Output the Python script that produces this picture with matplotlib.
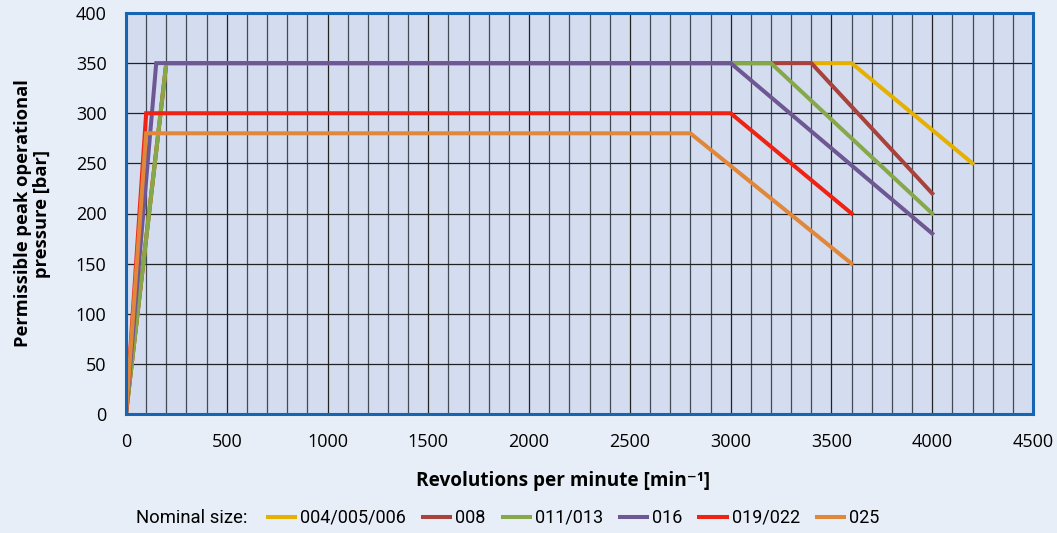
import numpy as np
import matplotlib.pyplot as plt
from matplotlib.ticker import MultipleLocator

plt.rcParams['font.family'] = ['Open Sans', 'DejaVu Sans']
plt.rcParams['font.size'] = 11

# curves: rpm / pressure corner points
labels = ['004/005/006', '008', '011/013', '016', '019/022', '025']
rpm_004 = [0, 200, 3600, 4200]
bar_004 = [0, 350, 350, 250]
rpm_008 = [0, 200, 3400, 4000]
bar_008 = [0, 350, 350, 220]
rpm_011 = [0, 200, 3200, 4000]
bar_011 = [0, 350, 350, 200]
rpm_016 = [0, 150, 3000, 4000]
bar_016 = [0, 350, 350, 180]
rpm_019 = [0, 100, 3000, 3600]
bar_019 = [0, 300, 300, 200]
rpm_025 = [0, 100, 2800, 3600]
bar_025 = [0, 280, 280, 150]

colors = ['#e6b000', '#a8423c', '#86a84a', '#6e5894', '#ee2314', '#e0873a']
series = [(rpm_004, bar_004), (rpm_008, bar_008), (rpm_011, bar_011),
          (rpm_016, bar_016), (rpm_019, bar_019), (rpm_025, bar_025)]

fig = plt.figure(figsize=(10.57, 5.33), dpi=100)
fig.patch.set_facecolor('#e8eef8')
ax = fig.add_axes([126/1057, 1-414/533, (1033-126)/1057, (414-13)/533])
ax.set_facecolor('#d4dcef')

for (x, y), c, lab in zip(series, colors, labels):
    ax.plot(x, y, '-', color=c, lw=2.9, label=lab, solid_joinstyle='miter')

ax.set_xlim(0, 4500)
ax.set_ylim(0, 400)
ax.xaxis.set_major_locator(MultipleLocator(500))
ax.xaxis.set_minor_locator(MultipleLocator(100))
ax.yaxis.set_major_locator(MultipleLocator(50))
ax.grid(True, which='major', color='#222222', lw=0.9)
ax.grid(True, which='minor', axis='x', color='#444a55', lw=0.9)
ax.set_axisbelow(True)
ax.tick_params(which='both', length=0, labelsize=13)
ax.tick_params(axis='x', pad=14)
ax.tick_params(axis='y', pad=14)
for s in ax.spines.values():
    s.set_color('#1565b4')
    s.set_linewidth(2.2)

ax.set_xlabel('Revolutions per minute [min⁻¹]', fontsize=13.7, fontweight='bold')
ax.xaxis.set_label_coords(0.482, -0.142)
ax.set_ylabel('Permissible peak operational\npressure [bar]', fontsize=13.2, fontweight='bold',
              linespacing=1.1)
ax.yaxis.set_label_coords(-0.103, 0.5)
ax.yaxis.label.set_va('center')

fig.text(136/1057, 1-518/533, 'Nominal size:', fontsize=13.3, va='center', family='Roboto')
fig.legend(loc='center left', bbox_to_anchor=(261/1057, 1-518/533), ncol=6, frameon=False,
           handlelength=1.5, handletextpad=0.28, columnspacing=0.94, borderaxespad=0,
           prop={'family': 'Roboto', 'size': 13})

fig.savefig('out.png', dpi=100, facecolor=fig.get_facecolor())
